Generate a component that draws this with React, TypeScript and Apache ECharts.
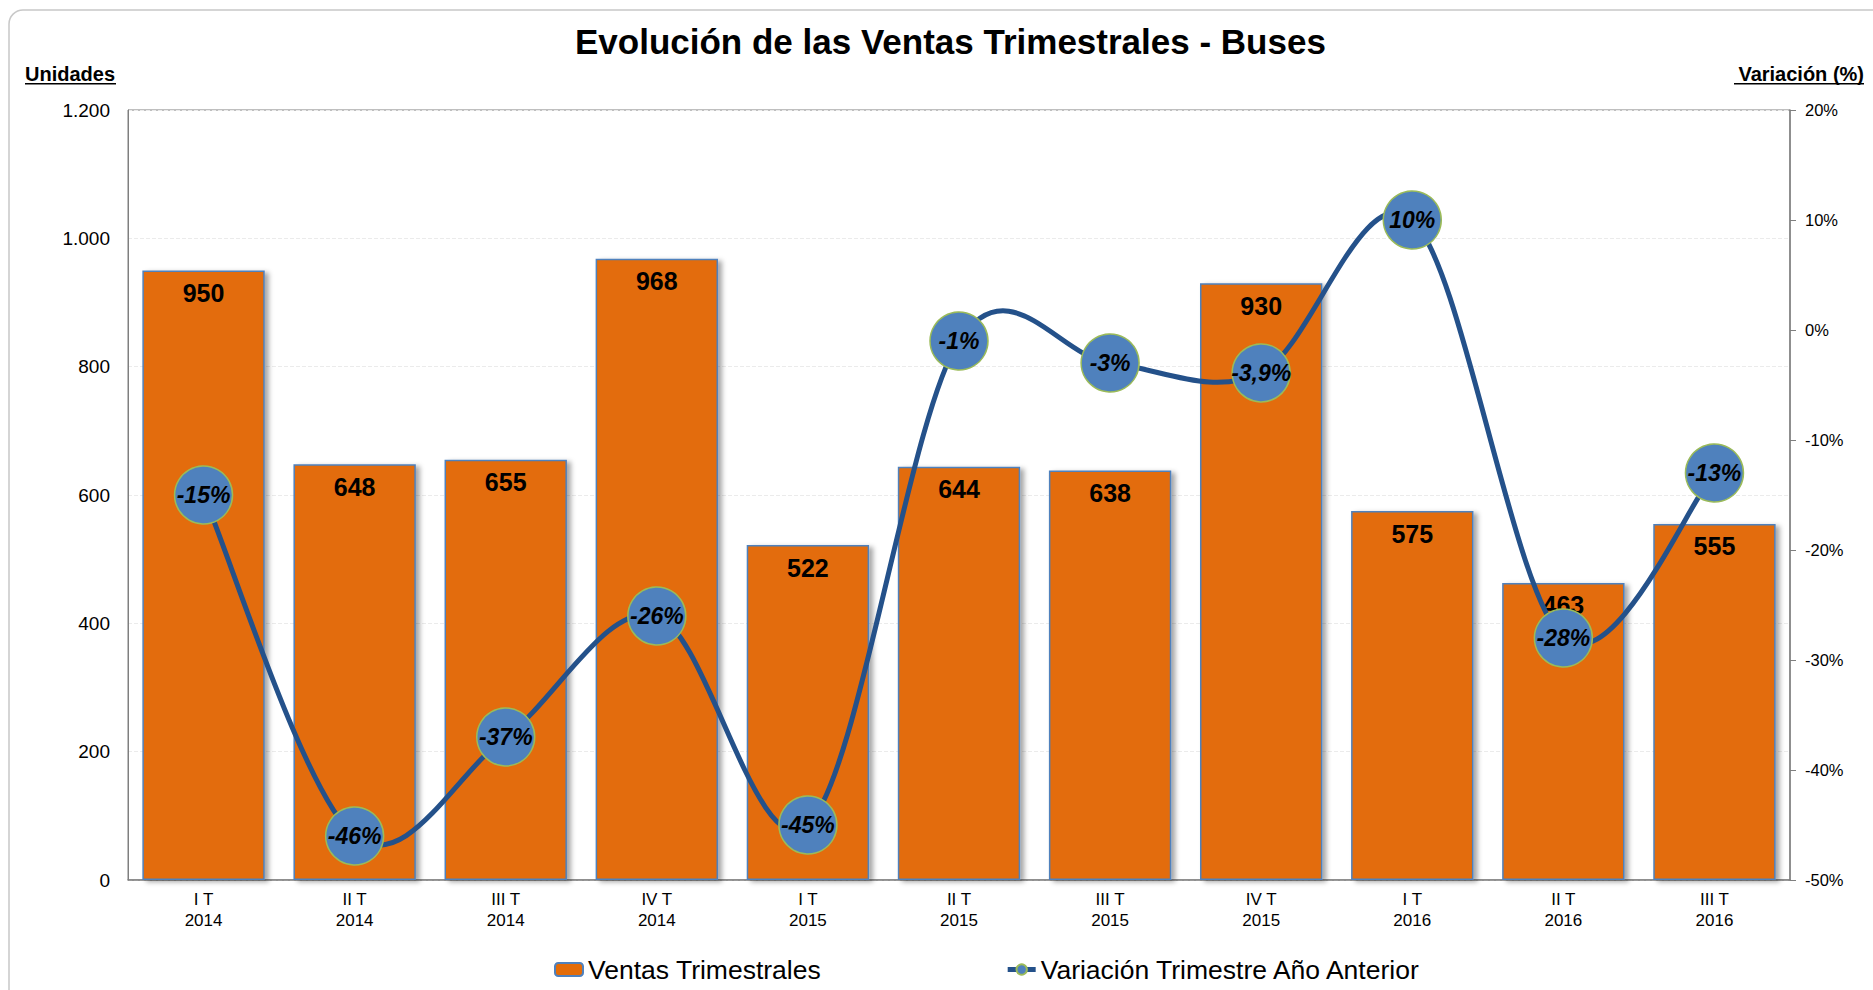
import React, { useEffect, useRef } from "react";
import * as echarts from "echarts";

const categories = [
  "I T\n2014", "II T\n2014", "III T\n2014", "IV T\n2014",
  "I T\n2015", "II T\n2015", "III T\n2015", "IV T\n2015",
  "I T\n2016", "II T\n2016", "III T\n2016",
];
const ventas = [950, 648, 655, 968, 522, 644, 638, 930, 575, 463, 555];
const variacion = [-15, -46, -37, -26, -45, -1, -3, -3.9, 10, -28, -13];

const FONT = "'Liberation Sans', Arial, sans-serif";
const LINE_COLOR = "#24518A";

function fmtThousands(v: number): string {
  return String(v).replace(/\B(?=(\d{3})+(?!\d))/g, ".");
}
function fmtPct(v: number): string {
  const s = Number.isInteger(v) ? String(v) : v.toFixed(1).replace(".", ",");
  return s + "%";
}

export default function App() {
  const ref = useRef<HTMLDivElement>(null);
  useEffect(() => {
    if (!ref.current) return;
    const chart = echarts.init(ref.current, undefined, { renderer: "svg" });
    const n = variacion.length;
    chart.setOption({
      animation: false,
      backgroundColor: "#ffffff",
      textStyle: { fontFamily: FONT },
      title: {
        text: "Evolución de las Ventas Trimestrales - Buses",
        left: 570,
        top: 19,
        textStyle: { fontFamily: FONT, fontSize: 35, fontWeight: "bold", color: "#000" },
      },
      graphic: [
        {
          type: "rect",
          shape: { x: 9, y: 10, width: 1880, height: 1000, r: 14 },
          style: { fill: "none", stroke: "#C8C8C8", lineWidth: 1.5 },
          silent: true,
          z: -10,
        },
        {
          type: "text",
          x: 25,
          y: 74,
          style: { text: "Unidades", font: `bold 20px ${FONT}`, fill: "#000", textVerticalAlign: "middle" },
        },
        {
          type: "rect",
          shape: { x: 25, y: 83, width: 91, height: 1.5 },
          style: { fill: "#000" },
        },
        {
          type: "text",
          x: 1864,
          y: 74,
          style: { text: "Variación (%)", font: `bold 20px ${FONT}`, fill: "#000", textAlign: "right", textVerticalAlign: "middle" },
        },
        {
          type: "rect",
          shape: { x: 1734, y: 83, width: 130, height: 1.5 },
          style: { fill: "#000" },
        },
      ],
      legend: {
        left: 549,
        top: 951,
        itemGap: 184,
        itemWidth: 28,
        itemHeight: 13,
        textStyle: { fontFamily: FONT, fontSize: 26.5, color: "#000" },
        data: [
          { name: "Ventas Trimestrales" },
          {
            name: "Variación Trimestre Año Anterior",
            lineStyle: { width: 5, color: LINE_COLOR, opacity: 1 },
          },
        ],
      },
      grid: {
        left: 128,
        right: 83,
        top: 110,
        bottom: 110,
        show: true,
        borderColor: "#7F7F7F",
        borderWidth: 1,
      },
      xAxis: {
        type: "category",
        data: categories,
        axisLine: { show: true, lineStyle: { color: "#7F7F7F", width: 1.5 } },
        axisTick: { show: false },
        axisLabel: { fontFamily: FONT, fontSize: 17, color: "#000", lineHeight: 21, margin: 9, interval: 0 },
      },
      yAxis: [
        {
          type: "value",
          min: 0,
          max: 1200,
          interval: 200,
          axisLine: { show: true, lineStyle: { color: "#7F7F7F" } },
          axisTick: { show: false },
          axisLabel: {
            fontFamily: FONT,
            fontSize: 19,
            color: "#000",
            margin: 18,
            formatter: (v: number) => fmtThousands(v),
          },
          splitLine: { show: true, lineStyle: { color: "#EBEBEB", type: "dashed", width: 1 } },
        },
        {
          type: "value",
          min: -50,
          max: 20,
          interval: 10,
          position: "right",
          axisLine: { show: true, lineStyle: { color: "#7F7F7F", width: 1.5 } },
          axisTick: { show: true, length: 6, lineStyle: { color: "#7F7F7F" } },
          axisLabel: {
            fontFamily: FONT,
            fontSize: 16.5,
            color: "#000",
            margin: 15,
            formatter: (v: number) => v + "%",
          },
          splitLine: { show: false },
        },
      ],
      series: [
        {
          name: "Ventas Trimestrales",
          type: "bar",
          data: ventas,
          barCategoryGap: "19%",
          itemStyle: {
            color: "#E36C09",
            borderColor: "#4F81BD",
            borderWidth: 1.5,
            shadowColor: "rgba(0,0,0,0.35)",
            shadowBlur: 5,
            shadowOffsetX: 4,
            shadowOffsetY: 2,
          },
          label: {
            show: true,
            position: "insideTop",
            distance: 10,
            fontFamily: FONT,
            fontSize: 25,
            fontWeight: "bold",
            color: "#000",
          },
          z: 2,
        },
        {
          name: "curva",
          type: "custom",
          yAxisIndex: 1,
          data: variacion.map((v, i) => [i, v]),
          silent: true,
          z: 4,
          renderItem: (params: any, api: any) => {
            const i = params.dataIndex;
            if (i >= n - 1) return null;
            const pt = (k: number) => {
              const kk = Math.max(0, Math.min(n - 1, k));
              return api.coord([kk, variacion[kk]]);
            };
            const p0 = pt(i - 1);
            const p1 = pt(i);
            const p2 = pt(i + 1);
            const p3 = pt(i + 2);
            const t = 1 / 6;
            return {
              type: "bezierCurve",
              shape: {
                x1: p1[0],
                y1: p1[1],
                x2: p2[0],
                y2: p2[1],
                cpx1: p1[0] + (p2[0] - p0[0]) * t,
                cpy1: p1[1] + (p2[1] - p0[1]) * t,
                cpx2: p2[0] - (p3[0] - p1[0]) * t,
                cpy2: p2[1] - (p3[1] - p1[1]) * t,
              },
              style: { stroke: LINE_COLOR, lineWidth: 5, fill: "none", lineCap: "round" },
            };
          },
        },
        {
          name: "Variación Trimestre Año Anterior",
          type: "line",
          yAxisIndex: 1,
          data: variacion,
          symbol: "circle",
          symbolSize: 58,
          lineStyle: { color: LINE_COLOR, width: 0, opacity: 0 },
          itemStyle: { color: "#4F81BD", borderColor: "#9BBB59", borderWidth: 1.5 },
          label: {
            show: true,
            position: "inside",
            fontFamily: FONT,
            fontSize: 23,
            fontWeight: "bold",
            fontStyle: "italic",
            color: "#000",
            formatter: (p: any) => fmtPct(p.value),
          },
          z: 5,
        },
      ],
    });
    return () => chart.dispose();
  }, []);
  return (
    <div
      ref={ref}
      style={{ position: "fixed", left: 0, top: 0, width: 1873, height: 990 }}
    />
  );
}
